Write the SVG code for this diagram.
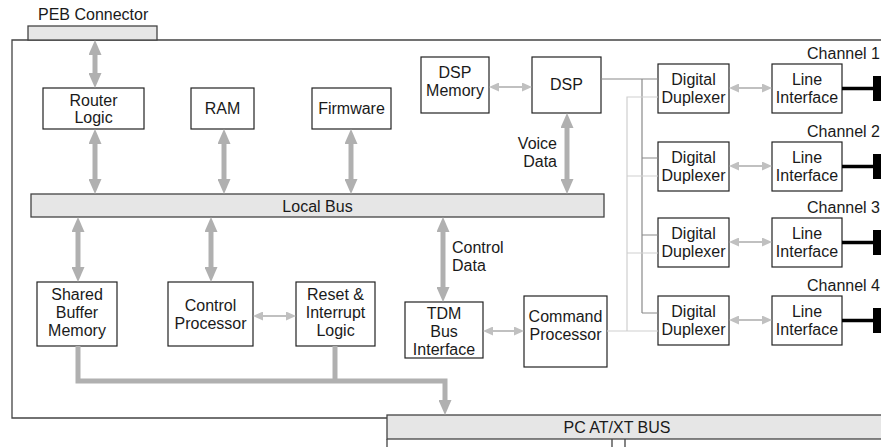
<svg xmlns="http://www.w3.org/2000/svg" width="881" height="447" viewBox="0 0 881 447">
<style>
text{font-family:"Liberation Sans",Arial,sans-serif;font-size:16px;fill:#1a1a1a}
.c{text-anchor:middle}
.box{fill:#fff;stroke:#222;stroke-width:1.2}
.bus{fill:#e6e6e6;stroke:#444;stroke-width:1.3}
.thick{stroke:#b0b0b0;stroke-width:5;fill:none}
.thin{stroke:#c0c0c0;stroke-width:2;fill:none}
.dk{stroke:#8a8a8a;stroke-width:1.2;fill:none}
.lt{stroke:#cfcfcf;stroke-width:1.2;fill:none}
.blk{stroke:#000;stroke-width:3.5}
</style>
<defs>
<marker id="ah" markerUnits="userSpaceOnUse" markerWidth="15" markerHeight="13" refX="0" refY="6.5" orient="auto-start-reverse"><path d="M0,0 L15,6.5 L0,13 z" fill="#b0b0b0"/></marker>
<marker id="as" markerUnits="userSpaceOnUse" markerWidth="10" markerHeight="9" refX="0" refY="4.5" orient="auto-start-reverse"><path d="M0,0 L10,4.5 L0,9 z" fill="#c0c0c0"/></marker>
</defs>

<g id="outer">
<path d="M881,40 H12 V418 H387" fill="none" stroke="#444" stroke-width="1.3"/>
</g>
<text x="38" y="20">PEB Connector</text>
<g id="peb"><rect x="28" y="26" width="129" height="14" class="bus"/></g>

<g id="router"><rect x="43" y="88" width="101" height="41" class="box"/><text class="c" x="93.5" y="106">Router</text><text class="c" x="93.5" y="123">Logic</text></g>
<g id="ram"><rect x="191" y="88" width="63" height="41" class="box"/><text class="c" x="222.5" y="114">RAM</text></g>
<g id="firmware"><rect x="312" y="88" width="79" height="41" class="box"/><text class="c" x="351.5" y="114">Firmware</text></g>
<g id="dspmem"><rect x="421" y="57" width="68" height="56" class="box"/><text class="c" x="455" y="78">DSP</text><text class="c" x="455" y="96">Memory</text></g>
<g id="dsp"><rect x="532" y="57" width="69" height="56" class="box"/><text class="c" x="566.5" y="90">DSP</text></g>
<g id="localbus"><rect x="31" y="194" width="573" height="23" class="bus"/><text class="c" x="317.5" y="212">Local Bus</text></g>

<g id="shared"><rect x="37" y="282" width="80" height="64" class="box"/><text class="c" x="77" y="300">Shared</text><text class="c" x="77" y="318">Buffer</text><text class="c" x="77" y="336">Memory</text></g>
<g id="ctrlproc"><rect x="168" y="282" width="85" height="64" class="box"/><text class="c" x="210.5" y="311">Control</text><text class="c" x="210.5" y="329">Processor</text></g>
<g id="reset"><rect x="296" y="282" width="79" height="64" class="box"/><text class="c" x="335.5" y="300">Reset &amp;</text><text class="c" x="335.5" y="318">Interrupt</text><text class="c" x="335.5" y="336">Logic</text></g>
<g id="tdm"><rect x="405" y="302" width="78" height="56" class="box"/><text class="c" x="444" y="319">TDM</text><text class="c" x="444" y="337">Bus</text><text class="c" x="444" y="355">Interface</text></g>
<g id="cmdproc"><rect x="524" y="296" width="83" height="71" class="box"/><text class="c" x="565.5" y="322">Command</text><text class="c" x="565.5" y="340">Processor</text></g>

<g id="pcbus"><rect x="387" y="415" width="500" height="24" class="bus"/><text class="c" x="617" y="433">PC AT/XT BUS</text>
<path d="M387,439 V447 M612,439 V447 M625,439 V447" stroke="#444" stroke-width="1.3"/></g>

<g id="dup1"><rect x="658" y="64" width="71" height="49" class="box"/><text class="c" x="693.5" y="85">Digital</text><text class="c" x="693.5" y="103">Duplexer</text></g>
<g id="dup2"><rect x="658" y="142" width="71" height="49" class="box"/><text class="c" x="693.5" y="163">Digital</text><text class="c" x="693.5" y="181">Duplexer</text></g>
<g id="dup3"><rect x="658" y="218" width="71" height="49" class="box"/><text class="c" x="693.5" y="239">Digital</text><text class="c" x="693.5" y="257">Duplexer</text></g>
<g id="dup4"><rect x="658" y="296" width="71" height="49" class="box"/><text class="c" x="693.5" y="317">Digital</text><text class="c" x="693.5" y="335">Duplexer</text></g>

<g id="line1"><rect x="772" y="64" width="70" height="49" class="box"/><text class="c" x="807" y="85">Line</text><text class="c" x="807" y="103">Interface</text><text x="880" y="59" text-anchor="end">Channel 1</text><line x1="842" y1="88.5" x2="873" y2="88.5" class="blk"/><rect x="873" y="76" width="10" height="25" fill="#000"/></g>
<g id="line2"><rect x="772" y="142" width="70" height="49" class="box"/><text class="c" x="807" y="163">Line</text><text class="c" x="807" y="181">Interface</text><text x="880" y="137" text-anchor="end">Channel 2</text><line x1="842" y1="166.5" x2="873" y2="166.5" class="blk"/><rect x="873" y="154" width="10" height="25" fill="#000"/></g>
<g id="line3"><rect x="772" y="218" width="70" height="49" class="box"/><text class="c" x="807" y="239">Line</text><text class="c" x="807" y="257">Interface</text><text x="880" y="213" text-anchor="end">Channel 3</text><line x1="842" y1="242.5" x2="873" y2="242.5" class="blk"/><rect x="873" y="230" width="10" height="25" fill="#000"/></g>
<g id="line4"><rect x="772" y="296" width="70" height="49" class="box"/><text class="c" x="807" y="317">Line</text><text class="c" x="807" y="335">Interface</text><text x="880" y="291" text-anchor="end">Channel 4</text><line x1="842" y1="320.5" x2="873" y2="320.5" class="blk"/><rect x="873" y="308" width="10" height="25" fill="#000"/></g>

<text x="557" y="149" text-anchor="end">Voice</text><text x="557" y="167" text-anchor="end">Data</text>
<text x="452" y="253">Control</text><text x="452" y="271">Data</text>

<g id="connectors">
<line x1="95" y1="55" x2="95" y2="73" class="thick" marker-start="url(#ah)" marker-end="url(#ah)"/>
<line x1="95" y1="144" x2="95" y2="179" class="thick" marker-start="url(#ah)" marker-end="url(#ah)"/>
<line x1="224" y1="144" x2="224" y2="179" class="thick" marker-start="url(#ah)" marker-end="url(#ah)"/>
<line x1="351" y1="144" x2="351" y2="179" class="thick" marker-start="url(#ah)" marker-end="url(#ah)"/>
<line x1="567" y1="128" x2="567" y2="179" class="thick" marker-start="url(#ah)" marker-end="url(#ah)"/>
<line x1="78" y1="232" x2="78" y2="267" class="thick" marker-start="url(#ah)" marker-end="url(#ah)"/>
<line x1="211" y1="232" x2="211" y2="267" class="thick" marker-start="url(#ah)" marker-end="url(#ah)"/>
<line x1="443" y1="232" x2="443" y2="287" class="thick" marker-start="url(#ah)" marker-end="url(#ah)"/>
<path d="M78,346 V381 H445 V400" class="thick" marker-end="url(#ah)"/>
<path d="M335,346 V381" class="thick"/>

<line x1="499" y1="87" x2="522" y2="87" class="thin" marker-start="url(#as)" marker-end="url(#as)"/>
<line x1="263" y1="316" x2="286" y2="316" class="thin" marker-start="url(#as)" marker-end="url(#as)"/>
<line x1="493" y1="331" x2="514" y2="331" class="thin" marker-start="url(#as)" marker-end="url(#as)"/>
<line x1="739" y1="88" x2="762" y2="88" class="thin" marker-start="url(#as)" marker-end="url(#as)"/>
<line x1="739" y1="166" x2="762" y2="166" class="thin" marker-start="url(#as)" marker-end="url(#as)"/>
<line x1="739" y1="242" x2="762" y2="242" class="thin" marker-start="url(#as)" marker-end="url(#as)"/>
<line x1="739" y1="320" x2="762" y2="320" class="thin" marker-start="url(#as)" marker-end="url(#as)"/>

<path d="M601,79 H658 M642,79 V313 M642,158 H658 M642,235 H658 M642,313 H658" class="dk"/>
<path d="M607,331 H658 M627,331 V97 H658 M627,176 H658 M627,253 H658" class="lt"/>
</g>
</svg>
